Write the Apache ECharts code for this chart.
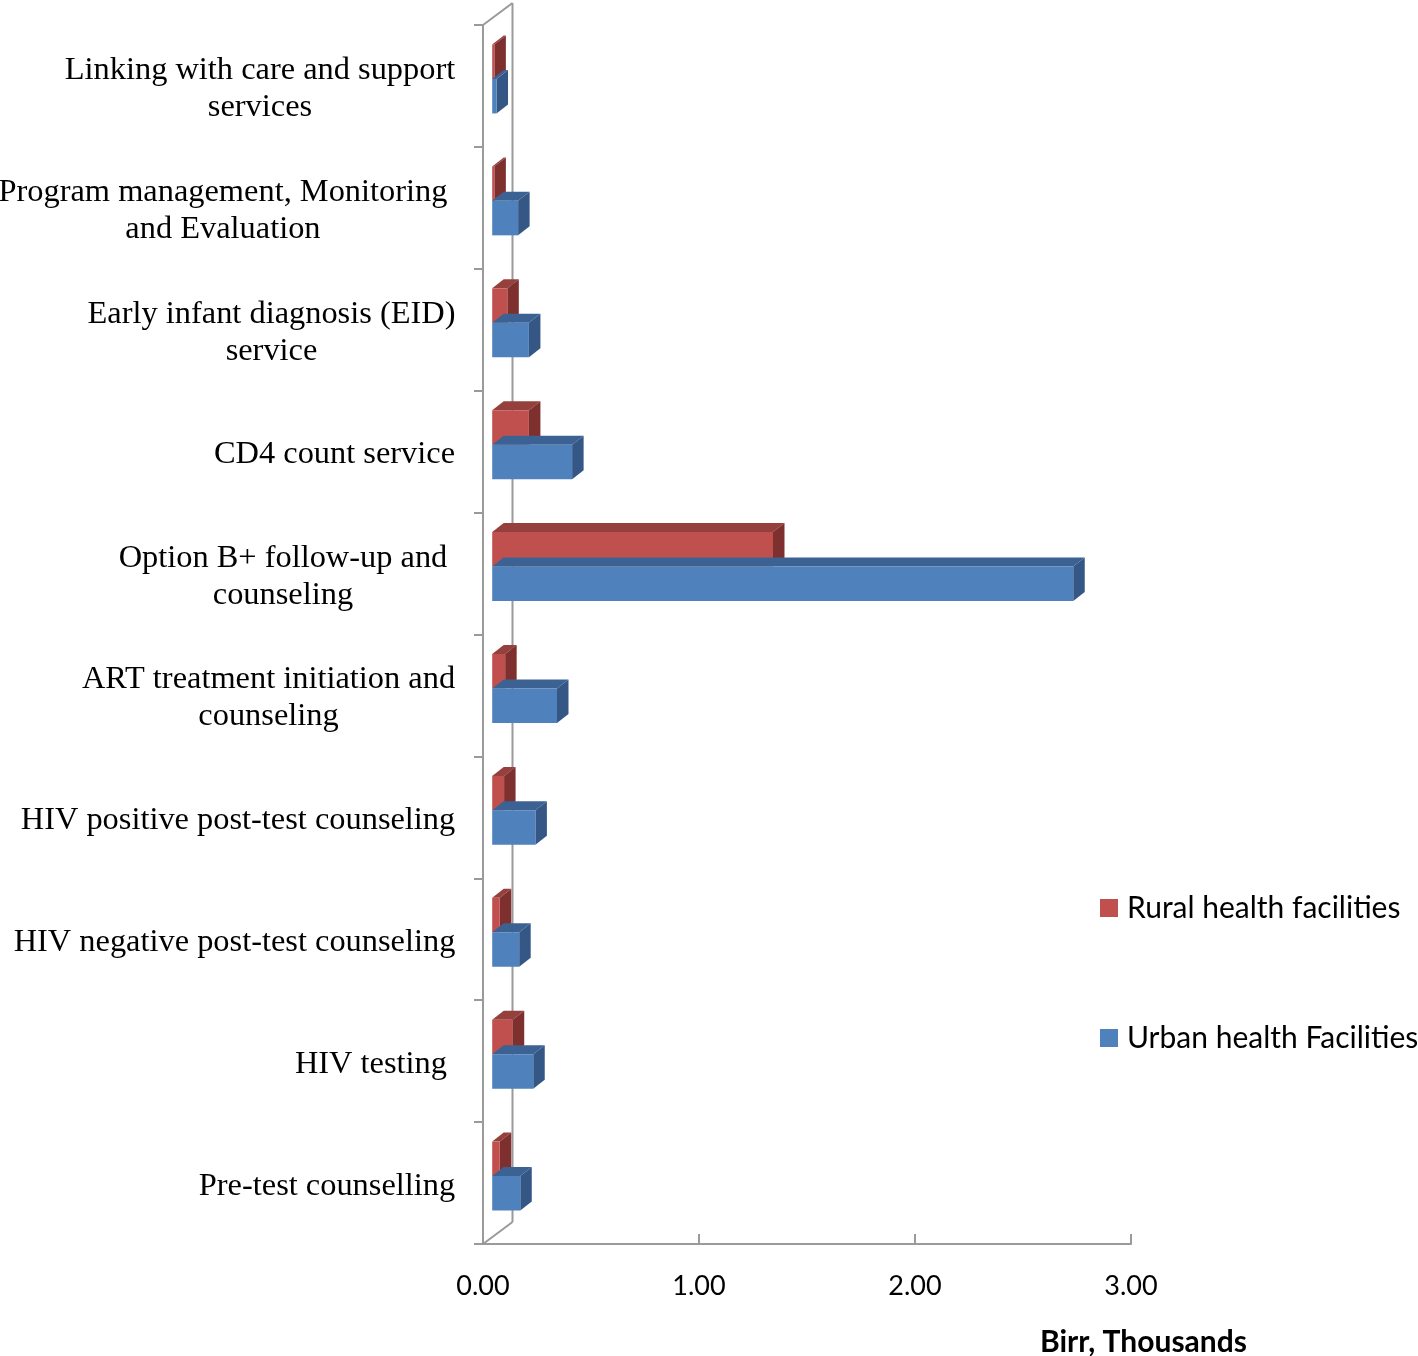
<!DOCTYPE html>
<html>
<head>
<meta charset="utf-8">
<script src="https://cdn.jsdelivr.net/npm/echarts@6/dist/echarts.min.js"></script>
<style>
html,body{margin:0;padding:0;background:#fff;}
#chart{width:1418px;height:1356px;}
</style>
</head>
<body>
<div id="chart"></div>
<script>
// ---- data (top to bottom) ----
const categories = [
  'Linking with care and support\nservices',
  'Program management, Monitoring \nand Evaluation ',
  'Early infant diagnosis (EID)\nservice',
  'CD4 count service',
  'Option B+ follow-up and \ncounseling ',
  'ART treatment initiation and\ncounseling',
  'HIV positive post-test counseling',
  'HIV negative post-test counseling',
  'HIV testing ',
  'Pre-test counselling'
];
const ruralValues = [0.01, 0.01, 0.07, 0.17, 1.30, 0.06, 0.055, 0.035, 0.095, 0.035];
const urbanValues = [0.02, 0.12, 0.17, 0.37, 2.69, 0.30, 0.20, 0.125, 0.19, 0.13];
const seriesNames = ['Rural health facilities', 'Urban health Facilities'];
const xTickValues = [0, 1, 2, 3];
const axisTitle = 'Birr, Thousands';

// ---- styles ----
const LABEL_FONT = '"Liberation Serif", "Times New Roman", serif';
const LABEL_SIZE = 32.4;
const SANS = 'Lato, "Open Sans", sans-serif';
const AXIS_GRAY = '#9A9A9A';
const COLORS = {
  rural: {front: '#C0504D', top: '#96403D', side: '#7E302E'},
  urban: {front: '#4F81BD', top: '#3C6294', side: '#355785'}
};
const BAR_DX = 11.5, BAR_DY = -9;      // bar depth offset
const BAR_SHIFT_X = 9.2;               // bars sit inside the depth
const WALL_DX = 29.5, WALL_DY = -22;   // wall depth offset

// measure label widths for centered multi-line labels
const cv = document.createElement('canvas').getContext('2d');
cv.font = LABEL_SIZE + 'px ' + LABEL_FONT;
const rich = {};
categories.forEach((c, i) => {
  const w = Math.max(...c.split('\n').map(l => cv.measureText(l).width));
  rich['c' + i] = {width: Math.ceil(w), align: 'center', fontSize: LABEL_SIZE, fontFamily: LABEL_FONT, lineHeight: 37, color: '#000'};
});

function barRenderer(kind) {
  const col = COLORS[kind];
  // fractions of band height relative to band center
  const f = kind === 'rural' ? [-0.340, -0.0574] : [-0.0574, 0.2256];
  return function (params, api) {
    const v = api.value(0), ci = api.value(1);
    const p0 = api.coord([0, ci]);
    const p1 = api.coord([v, ci]);
    const h = api.size([0, 1])[1];
    const x0 = p0[0] + BAR_SHIFT_X, x1 = p1[0] + BAR_SHIFT_X;
    const yT = p0[1] + f[0] * h, yB = p0[1] + f[1] * h;
    return {
      type: 'group',
      children: [
        {type: 'polygon', shape: {points: [[x0, yT], [x1, yT], [x1 + BAR_DX, yT + BAR_DY], [x0 + BAR_DX, yT + BAR_DY]]},
          style: {fill: col.top}},
        {type: 'polygon', shape: {points: [[x1, yT], [x1 + BAR_DX, yT + BAR_DY], [x1 + BAR_DX, yB + BAR_DY], [x1, yB]]},
          style: {fill: col.side}},
        {type: 'rect', shape: {x: x0, y: yT, width: Math.max(0, x1 - x0), height: yB - yT},
          style: {fill: col.front}}
      ]
    };
  };
}

const chart = echarts.init(document.getElementById('chart'), null, {renderer: 'canvas'});
chart.setOption({
  animation: false,
  backgroundColor: '#fff',
  grid: {left: 483, right: 287, top: 25, bottom: 112, containLabel: false, outerBoundsMode: 'none'},
  title: {
    text: axisTitle, left: 1035, top: 1322,
    textStyle: {fontFamily: SANS, fontWeight: 'bold', fontSize: 30, color: '#000'}
  },
  legend: [
    {data: [seriesNames[0]], left: 1100, top: 893, orient: 'vertical', padding: 0,
      itemWidth: 18, itemHeight: 18, icon: 'rect',
      textStyle: {fontFamily: SANS, fontSize: 30, color: '#000', padding: [0, 0, 0, 4]}},
    {data: [seriesNames[1]], left: 1100, top: 1023, orient: 'vertical', padding: 0,
      itemWidth: 18, itemHeight: 18, icon: 'rect',
      textStyle: {fontFamily: SANS, fontSize: 30, color: '#000', padding: [0, 0, 0, 4]}}
  ],
  xAxis: {
    type: 'value', min: 0, max: 3, interval: 1,
    axisLine: {show: true, lineStyle: {color: AXIS_GRAY, width: 2}},
    axisTick: {show: true, inside: true, length: 10, lineStyle: {color: AXIS_GRAY, width: 2}},
    splitLine: {show: false},
    axisLabel: {
      margin: 29, fontFamily: SANS, fontSize: 27, color: '#000',
      formatter: v => xTickValues.includes(v) ? v.toFixed(2) : ''
    }
  },
  yAxis: {
    type: 'category', data: categories, inverse: true,
    axisLine: {show: true, lineStyle: {color: AXIS_GRAY, width: 2}},
    axisTick: {show: true, length: 9, interval: 0, lineStyle: {color: AXIS_GRAY, width: 2}},
    splitLine: {show: false},
    axisLabel: {
      interval: 0, margin: 27.5, align: 'right', padding: [6, 0, 0, 0],
      formatter: (val, idx) => val.split('\n').map(l => '{c' + idx + '|' + l + '}').join('\n'),
      rich: rich
    }
  },
  series: [
    {
      name: 'wall', type: 'custom', silent: true, z: 1,
      data: [[0, 0]], encode: {x: 0, y: 1},
      renderItem: function (params, api) {
        const c = api.coord([0, 0]);
        const h = api.size([0, 1])[1];
        const top = c[1] - h / 2, bottom = top + h * categories.length;
        const x0 = c[0];
        const ls = {stroke: AXIS_GRAY, lineWidth: 2};
        return {type: 'group', children: [
          {type: 'line', shape: {x1: x0 + WALL_DX, y1: top + WALL_DY, x2: x0 + WALL_DX, y2: bottom + WALL_DY}, style: ls},
          {type: 'line', shape: {x1: x0, y1: top, x2: x0 + WALL_DX, y2: top + WALL_DY}, style: ls},
          {type: 'line', shape: {x1: x0, y1: bottom, x2: x0 + WALL_DX, y2: bottom + WALL_DY}, style: ls}
        ]};
      }
    },
    {
      name: seriesNames[0], type: 'custom', z: 2,
      itemStyle: {color: COLORS.rural.front},
      data: ruralValues.map((v, i) => [v, i]), encode: {x: 0, y: 1},
      renderItem: barRenderer('rural')
    },
    {
      name: seriesNames[1], type: 'custom', z: 3,
      itemStyle: {color: COLORS.urban.front},
      data: urbanValues.map((v, i) => [v, i]), encode: {x: 0, y: 1},
      renderItem: barRenderer('urban')
    }
  ]
});
</script>
</body>
</html>
